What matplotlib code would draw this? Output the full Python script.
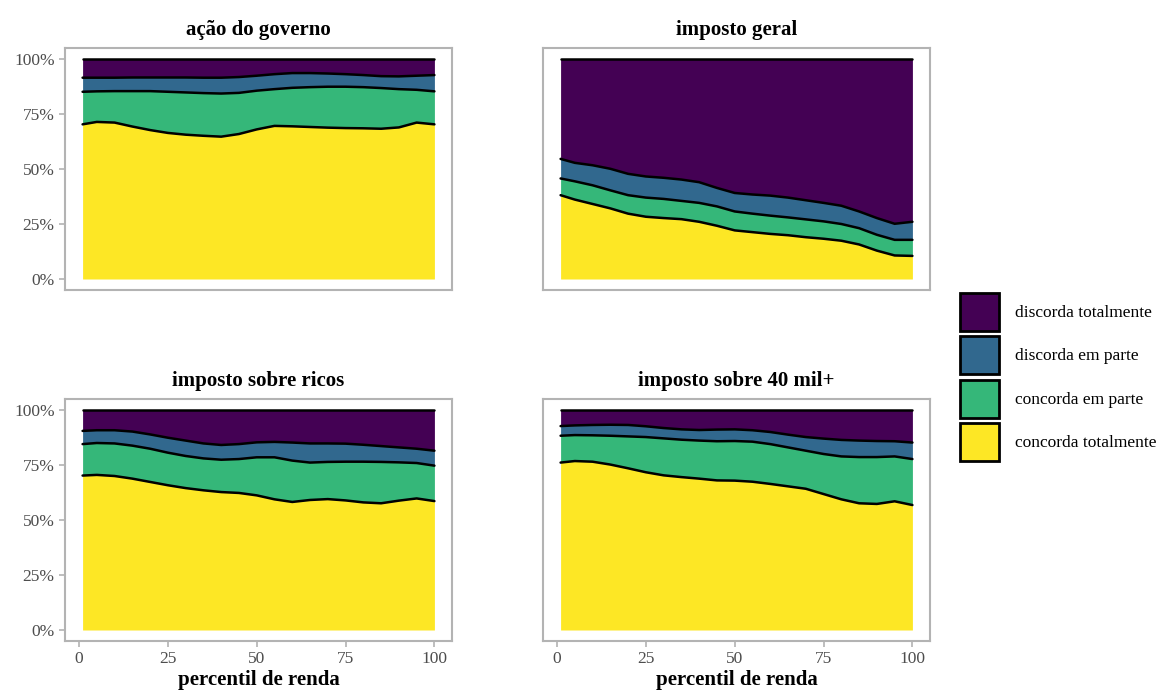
import numpy as np
import matplotlib
matplotlib.use("Agg")
import matplotlib.pyplot as plt
from matplotlib.patches import Patch

plt.rcParams['font.family'] = ['Liberation Serif', 'DejaVu Serif']

percentil = [1, 5, 10, 15, 20, 25, 30, 35, 40, 45, 50, 55, 60, 65, 70, 75, 80, 85, 90, 95, 100]
categorias = ['concorda totalmente', 'concorda em parte', 'discorda em parte', 'discorda totalmente']
cores = ['#FDE725', '#35B779', '#31688E', '#440154']
titulos = ['ação do governo', 'imposto geral', 'imposto sobre ricos', 'imposto sobre 40 mil+']

# cumulative share (%) up to: concorda totalmente / concorda em parte / discorda em parte
acao_governo = [
    [70.3, 71.4, 71.1, 69.3, 67.7, 66.4, 65.6, 65.1, 64.7, 65.9, 68.0, 69.6, 69.4, 69.1, 68.8, 68.6, 68.5, 68.3, 68.9, 71.1, 70.3],
    [85.1, 85.3, 85.4, 85.4, 85.4, 85.1, 84.8, 84.5, 84.3, 84.6, 85.6, 86.3, 86.9, 87.2, 87.4, 87.4, 87.2, 86.8, 86.3, 86.0, 85.3],
    [91.5, 91.5, 91.5, 91.6, 91.6, 91.6, 91.6, 91.5, 91.5, 91.8, 92.4, 93.1, 93.6, 93.6, 93.4, 93.1, 92.7, 92.2, 92.1, 92.4, 92.7],
]
imposto_geral = [
    [38.1, 36.1, 34.1, 32.1, 29.7, 28.3, 27.7, 27.2, 26.0, 24.2, 22.1, 21.3, 20.5, 19.9, 19.0, 18.3, 17.4, 15.7, 12.9, 10.7, 10.5],
    [45.7, 44.4, 42.6, 40.3, 38.1, 37.0, 36.4, 35.5, 34.6, 33.0, 30.7, 29.7, 28.8, 28.0, 27.1, 26.2, 25.0, 23.1, 20.1, 17.8, 17.8],
    [54.6, 52.8, 51.7, 50.1, 47.8, 46.6, 46.0, 45.2, 44.0, 41.4, 39.1, 38.4, 37.9, 37.0, 35.8, 34.6, 33.3, 30.7, 27.7, 25.1, 26.0],
]
imposto_ricos = [
    [70.2, 70.5, 70.0, 68.8, 67.3, 65.8, 64.5, 63.5, 62.7, 62.3, 61.2, 59.4, 58.2, 59.1, 59.5, 58.9, 58.0, 57.6, 58.8, 59.8, 58.6],
    [84.5, 85.0, 84.8, 83.8, 82.4, 80.6, 79.1, 78.0, 77.4, 77.7, 78.5, 78.5, 77.0, 76.1, 76.4, 76.5, 76.5, 76.4, 76.2, 75.9, 74.7],
    [90.5, 90.8, 90.8, 90.2, 88.9, 87.4, 86.1, 84.8, 84.1, 84.5, 85.3, 85.5, 85.2, 84.8, 84.8, 84.7, 84.2, 83.6, 83.0, 82.4, 81.5],
]
imposto_40mil = [
    [76.1, 76.8, 76.5, 75.2, 73.5, 71.7, 70.3, 69.5, 68.8, 68.0, 67.9, 67.4, 66.4, 65.3, 64.2, 61.8, 59.4, 57.6, 57.3, 58.5, 56.8],
    [88.3, 88.6, 88.5, 88.3, 88.0, 87.7, 87.1, 86.5, 86.1, 85.8, 85.9, 85.6, 84.5, 83.0, 81.5, 80.0, 78.9, 78.6, 78.6, 78.9, 77.7],
    [92.7, 93.0, 93.2, 93.3, 93.2, 92.6, 91.8, 91.2, 90.9, 91.1, 91.2, 90.8, 90.0, 88.8, 87.7, 87.0, 86.4, 86.1, 85.9, 85.8, 85.2],
]
paineis = [acao_governo, imposto_geral, imposto_ricos, imposto_40mil]

fig = plt.figure(figsize=(11.64, 6.99), dpi=100)
W, H = 1164, 699
boxes = [(65, 48), (543, 48), (65, 399), (543, 399)]
bw, bh = 387, 242

grey = '#b3b3b3'
for k, (x0, y0) in enumerate(boxes):
    ax = fig.add_axes([x0 / W, 1 - (y0 + bh) / H, bw / W, bh / H])
    x = np.array(percentil)
    acum = np.array(paineis[k]) / 100.0
    limites = [np.zeros_like(x, dtype=float)] + list(acum) + [np.ones_like(x, dtype=float)]
    for i in range(4):
        ax.fill_between(x, limites[i], limites[i + 1], color=cores[i], linewidth=0)
    for t in limites[1:]:
        ax.plot(x, t, color='black', lw=1.8, solid_capstyle='round', solid_joinstyle='round')
    ax.set_xlim(1 - 4.95, 100 + 4.95)
    ax.set_ylim(-0.05, 1.05)
    ax.set_title(titulos[k], fontsize=15, fontweight='bold', pad=9, color='black')
    for s in ax.spines.values():
        s.set_color(grey)
        s.set_linewidth(1.5)
    ax.tick_params(colors=grey, labelcolor='#4d4d4d', labelsize=12.5, length=4, width=1.2)
    ax.set_xticks([0, 25, 50, 75, 100])
    ax.set_yticks([0, 0.25, 0.5, 0.75, 1.0])
    ax.set_yticklabels(['0%', '25%', '50%', '75%', '100%'])
    if k < 2:
        ax.tick_params(axis='x', bottom=False, labelbottom=False)
    else:
        ax.set_xlabel('percentil de renda', fontsize=15, fontweight='bold', labelpad=2)
    if k % 2 == 1:
        ax.tick_params(axis='y', left=False, labelleft=False)

handles = [Patch(facecolor=cores[i], edgecolor='black', linewidth=2, label=categorias[i])
           for i in range(3, -1, -1)]
fig.legend(handles=handles, loc='upper left', bbox_to_anchor=(953 / W, 1 - 286 / H),
           frameon=False, fontsize=12.5, handlelength=2.25, handleheight=3.0,
           labelspacing=0.3, handletextpad=0.9, borderaxespad=0)

fig.savefig('out.png', dpi=100)
